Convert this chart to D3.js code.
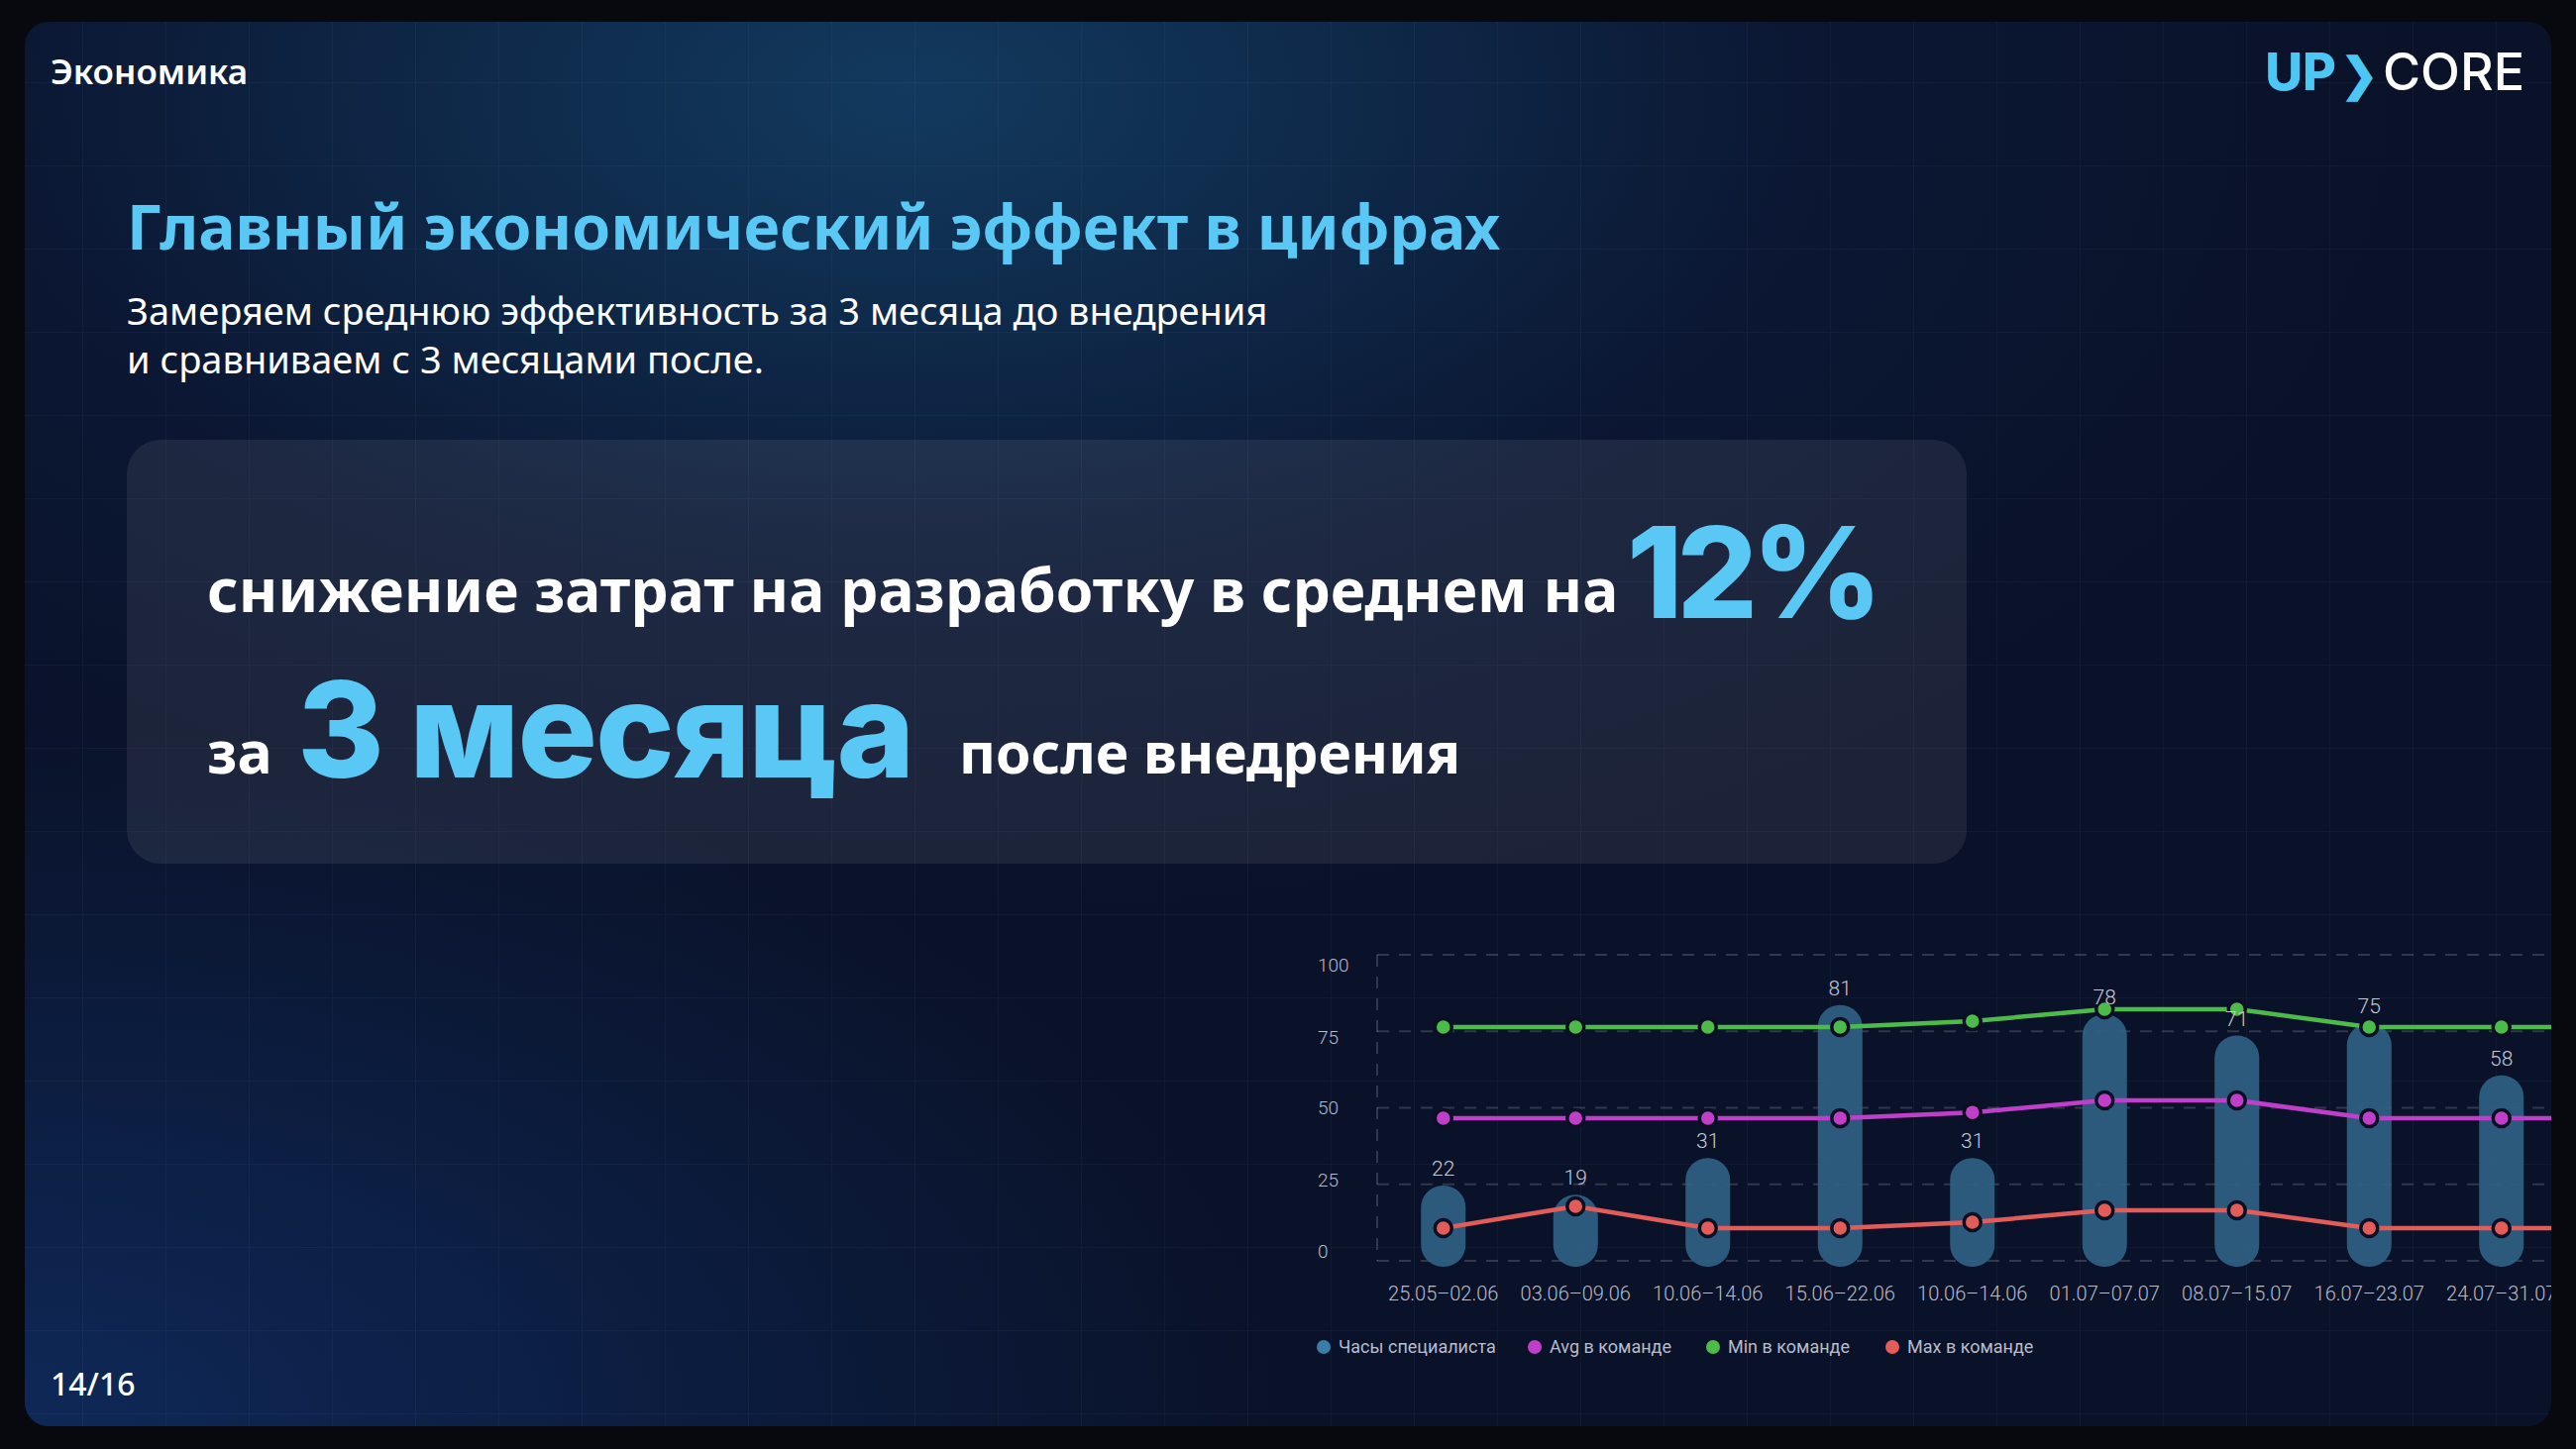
<!DOCTYPE html>
<html><head><meta charset="utf-8">
<script src="https://cdn.jsdelivr.net/npm/d3@7"></script>
<style>html,body{margin:0;padding:0;background:#07090f;overflow:hidden}</style>
</head><body>
<svg id="c" width="2600" height="1463"></svg>
<script>
const categories = ["25.05–02.06","03.06–09.06","10.06–14.06","15.06–22.06","10.06–14.06","01.07–07.07","08.07–15.07","16.07–23.07","24.07–31.07",""];
const hours = [22,19,31,81,31,78,71,75,58,null];
const avgTeam = [46.6,46.6,46.6,46.6,48.5,52.4,52.4,46.6,46.6,46.6];
const minTeam = [76.4,76.4,76.4,76.4,78.3,82.2,82.2,76.4,76.4,76.4];
const maxTeam = [10.7,17.8,10.7,10.7,12.6,16.5,16.5,10.7,10.7,10.7];
const yTicks = [0,25,50,75,100];
const legendItems = ["Часы специалиста","Avg в команде","Min в команде","Max в команде"];

const svg = d3.select("#c");
const defs = svg.append("defs");
const g1 = defs.append("radialGradient").attr("id","glow").attr("cx","0.35").attr("cy","0.05").attr("r","0.6");
g1.append("stop").attr("offset","0").attr("stop-color","#123a5e");
g1.append("stop").attr("offset","0.6").attr("stop-color","#0b1733");
g1.append("stop").attr("offset","1").attr("stop-color","#0a1229");
const g2 = defs.append("radialGradient").attr("id","glow2").attr("cx","0").attr("cy","1").attr("r","0.5");
g2.append("stop").attr("offset","0").attr("stop-color","#0f2e63").attr("stop-opacity",0.8);
g2.append("stop").attr("offset","1").attr("stop-color","#0f2e63").attr("stop-opacity",0);
const pat = defs.append("pattern").attr("id","grid").attr("width",84).attr("height",84).attr("patternUnits","userSpaceOnUse");
pat.append("path").attr("d","M84 0V84H0").attr("fill","none").attr("stroke","rgba(255,255,255,0.03)").attr("stroke-width",2);
defs.append("clipPath").attr("id","pclip").append("rect").attr("x",25).attr("y",22).attr("width",2550).attr("height",1418).attr("rx",24);

svg.append("rect").attr("width",2600).attr("height",1463).attr("fill","#07090f");
const panel = svg.append("g").attr("clip-path","url(#pclip)");
panel.append("rect").attr("x",25).attr("y",22).attr("width",2550).attr("height",1418).attr("fill","url(#glow)");
panel.append("rect").attr("x",25).attr("y",22).attr("width",2550).attr("height",1418).attr("fill","url(#glow2)");
panel.append("rect").attr("x",25).attr("y",22).attr("width",2550).attr("height",1418).attr("fill","url(#grid)");

const T = (x,y,txt,size,fill,weight,family,anchor) => panel.append("text").attr("x",x).attr("y",y).text(txt)
  .attr("font-size",size).attr("fill",fill).attr("font-weight",weight||400)
  .attr("font-family",family||"'Noto Sans', sans-serif").attr("text-anchor",anchor||"start");

T(51,85,"Экономика",35,"#fff",600);
const logo = panel.append("text").attr("x",2548).attr("y",91).attr("text-anchor","end").attr("font-size",52).attr("font-weight",800).attr("font-family","Inter, sans-serif");
logo.append("tspan").text("UP").attr("fill","#4cc6f2");
logo.append("tspan").text("❯").attr("fill","#4cc6f2").attr("font-size",46).attr("dx",4);
logo.append("tspan").text("CORE").attr("fill","#fff").attr("font-weight",500).attr("dx",4);
T(128,252,"Главный экономический эффект в цифрах",62.5,"#5ac8f5",700);
T(128,328,"Замеряем среднюю эффективность за 3 месяца до внедрения",38,"#fff",400);
T(128,377,"и сравниваем с 3 месяцами после.",38,"#fff",400);
panel.append("rect").attr("x",128).attr("y",444).attr("width",1857).attr("height",428).attr("rx",34).attr("fill","rgba(255,255,255,0.075)");
T(209,618,"снижение затрат на разработку в среднем на",60.5,"#fff",700);
T(1642,624,"12%",128,"#5ac8f5",800,"Inter, sans-serif").attr("letter-spacing",-6);
T(209,781,"за",59,"#fff",700);
T(300,785,"3 месяца",134,"#5ac8f5",800,"Inter, sans-serif").attr("letter-spacing",-2);
T(968,781,"после внедрения",57,"#fff",700);
T(51,1409,"14/16",32,"#fff",500);

// chart
const x = d3.scaleBand().domain(d3.range(categories.length)).range([1390,1390+133.5*categories.length]);
const y = d3.scaleLinear().domain([0,100]).range([1273,964]);
const ch = panel.append("g").attr("font-family","Roboto, sans-serif");
const gc = "rgba(255,255,255,0.16)";
ch.selectAll(".gl").data(yTicks).join("line").attr("x1",1390).attr("x2",2575).attr("y1",d=>y(d)).attr("y2",d=>y(d))
  .attr("stroke",gc).attr("stroke-width",2).attr("stroke-dasharray","12 10");
ch.append("line").attr("x1",1390).attr("x2",1390).attr("y1",y(100)).attr("y2",y(0)).attr("stroke",gc).attr("stroke-width",2).attr("stroke-dasharray","12 10");
ch.selectAll(".yl").data(yTicks).join("text").attr("x",1330).attr("y",d=>y(d)+(d===100?10:d===0?-10:d===75?6:d===25?-4:0)).attr("dy","0.35em")
  .text(d=>d).attr("font-size",19).attr("font-weight",300).attr("fill","#b8bccb");
const cx = i => x(i)+x.bandwidth()/2;
ch.selectAll(".xl").data(categories).join("text").attr("x",(d,i)=>cx(i)).attr("y",1313).attr("text-anchor","middle")
  .text(d=>d).attr("font-size",20).attr("font-weight",300).attr("fill","#b8bccb");
const bw = 45;
const hd = hours.map((v,i)=>({v,i})).filter(d=>d.v!=null);
ch.selectAll(".bar").data(hd).join("rect").attr("x",d=>cx(d.i)-bw/2).attr("width",bw)
  .attr("y",d=>y(d.v)-8).attr("height",d=>y(0)+14-y(d.v)).attr("rx",22).attr("fill","#2e5f82").attr("opacity",0.95);
const cols = {avg:"#c03fc8",min:"#4dbb4a",max:"#e25c5a"};
[[minTeam,cols.min],[avgTeam,cols.avg],[maxTeam,cols.max]].forEach(([arr,c])=>{
  ch.append("path").datum(arr).attr("d",d3.line().x((d,i)=>cx(i)).y(d=>y(d))).attr("fill","none").attr("stroke",c).attr("stroke-width",4.5);
  ch.selectAll(null).data(arr).join("circle").attr("cx",(d,i)=>cx(i)).attr("cy",d=>y(d)).attr("r",8.5)
    .attr("fill",c).attr("stroke","#0a0f22").attr("stroke-width",3.5);
});
ch.selectAll(".bl").data(hd).join("text").attr("x",d=>cx(d.i)).attr("y",d=>y(d.v)-18).attr("text-anchor","middle")
  .text(d=>d.v).attr("font-size",21).attr("font-weight",300).attr("fill","#c4c8d4");
const lc = ["#3a7ea8",cols.avg,cols.min,cols.max];
const lx = [1336,1549,1729,1910];
legendItems.forEach((t,i)=>{
  ch.append("circle").attr("cx",lx[i]).attr("cy",1360).attr("r",7).attr("fill",lc[i]);
  ch.append("text").attr("x",lx[i]+15).attr("y",1360).attr("dy","0.35em").text(t).attr("font-size",18).attr("fill","#b8bccb");
});
</script>
</body></html>
